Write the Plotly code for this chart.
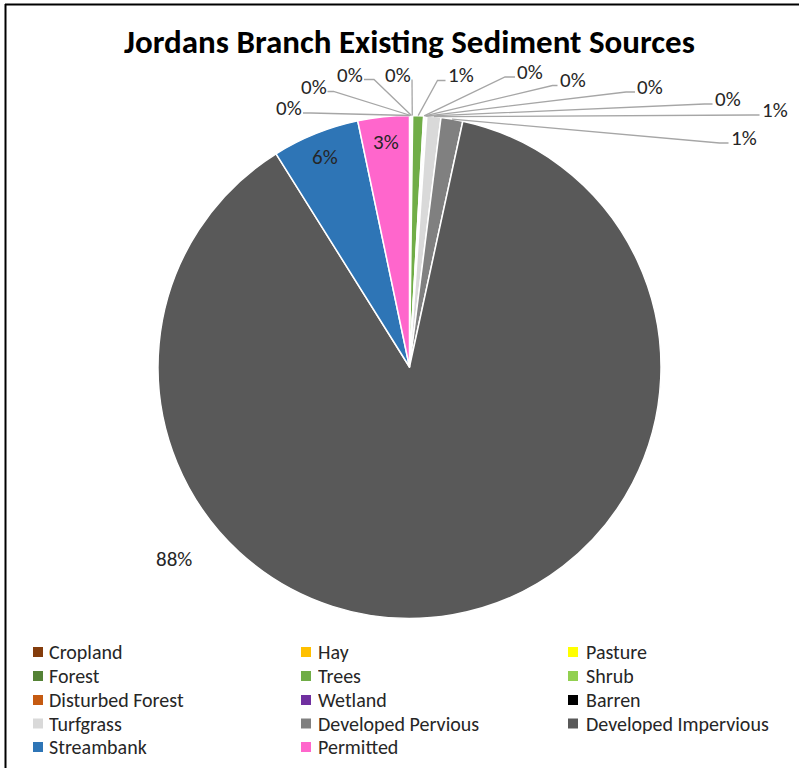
import math
import plotly.graph_objects as go

# ---- data -------------------------------------------------------------
categories = [
    "Cropland", "Hay", "Pasture", "Forest", "Trees", "Shrub",
    "Disturbed Forest", "Wetland", "Barren", "Turfgrass",
    "Developed Pervious", "Developed Impervious", "Streambank", "Permitted",
]
shares = [0.05, 0.05, 0.05, 0.05, 0.70, 0.05,
          0.05, 0.05, 0.05, 0.90,
          1.40, 87.70, 5.60, 3.30]
colors = [
    "#843C0C", "#FFC000", "#FFFF00", "#548235", "#70AD47", "#92D050",
    "#C55A11", "#7030A0", "#000000", "#D9D9D9",
    "#808080", "#595959", "#2E75B6", "#FF66CC",
]
title_text = "Jordans Branch Existing Sediment Sources"

# ---- layout constants (pixels) ---------------------------------------
W, H = 799, 768
CX, CY, R = 409.5, 367.0, 251.5
FONT = "Calibri, Carlito, Lato, sans-serif"
TEXT_COLOR = "#262626"
LEADER_COLOR = "#A6A6A6"
LABEL_SIZE = 21
LEGEND_SIZE = 20
TITLE_SIZE = 33

# callout labels for the thin slices: text centre x, y, side the leader
# leaves from ("L" = label sits left of its slice), elbow length
callouts = {
    "Cropland": (289.0, 108.5, "L", 8),
    "Hay": (313.5, 87.0, "L", 6),
    "Pasture": (350.0, 75.0, "L", 10),
    "Forest": (398.0, 75.0, "L", 0),
    "Trees": (460.5, 75.0, "R", 8),
    "Shrub": (530.0, 71.5, "R", 10),
    "Disturbed Forest": (572.5, 80.0, "R", 5),
    "Wetland": (650.0, 86.5, "R", 9),
    "Barren": (727.5, 98.5, "R", 8),
    "Turfgrass": (774.5, 109.5, "R", 8),
    "Developed Pervious": (743.5, 137.5, "R", 9),
}
inside_labels = {"Streambank": 0.90, "Permitted": 0.90}
free_labels = {"Developed Impervious": (174.0, 558.5)}

LEG_COLS = [(33, 48), (301, 317), (568, 585)]
LEG_ROWS = [652, 676, 700, 723.5, 747]
LEG_BOX = 10
LEG_TEXT_H = 22


def px(x):
    return x / W


def py(y):
    return 1 - y / H


total = sum(shares)
pcts = [v / total * 100 for v in shares]
mid_angle = {}
acc = 0.0
for name, p in zip(categories, pcts):
    mid_angle[name] = (acc + p / 2) * 3.6
    acc += p


def arc_point(theta_deg, r):
    t = math.radians(theta_deg)
    return CX + r * math.sin(t), CY - r * math.cos(t)


def pct_text(name):
    return f"{round(pcts[categories.index(name)]):.0f}%"


fig = go.Figure(
    go.Pie(
        labels=categories,
        values=shares,
        sort=False,
        direction="clockwise",
        rotation=0,
        marker=dict(colors=colors, line=dict(color="#FFFFFF", width=1.5)),
        textinfo="none",
        hoverinfo="label+percent",
        showlegend=False,
        domain=dict(x=[px(CX - R), px(CX + R)], y=[py(CY + R), py(CY - R)]),
    )
)

annotations = []
shapes = []

# callouts with leader lines
half_w = 13
for name, (tx, ty, side, elbow) in callouts.items():
    annotations.append(dict(
        x=px(tx), y=py(ty), xref="paper", yref="paper", text=pct_text(name),
        showarrow=False, xanchor="center", yanchor="middle",
        font=dict(family=FONT, size=LABEL_SIZE, color=TEXT_COLOR),
    ))
    if side == "L":
        sx, sy = tx + half_w + 1, ty + 4.5
        ex = sx + elbow
    else:
        sx, sy = tx - half_w - 2, ty + 5.5
        ex = sx - elbow
    ax, ay = arc_point(mid_angle[name], R)
    path = (f"M {px(sx)},{py(sy)} L {px(ex)},{py(sy)} "
            f"L {px(ax)},{py(ay)}")
    shapes.append(dict(type="path", path=path, xref="paper", yref="paper",
                       line=dict(color=LEADER_COLOR, width=1.3)))

# labels placed inside their slices
for name, rf in inside_labels.items():
    lx, ly = arc_point(mid_angle[name], R * rf)
    annotations.append(dict(
        x=px(lx), y=py(ly), xref="paper", yref="paper", text=pct_text(name),
        showarrow=False, xanchor="center", yanchor="middle",
        font=dict(family=FONT, size=LABEL_SIZE, color=TEXT_COLOR),
    ))

for name, (lx, ly) in free_labels.items():
    annotations.append(dict(
        x=px(lx), y=py(ly), xref="paper", yref="paper", text=pct_text(name),
        showarrow=False, xanchor="center", yanchor="middle",
        font=dict(family=FONT, size=LABEL_SIZE, color=TEXT_COLOR),
    ))

# legend: three columns, filled row by row
for i, (name, col) in enumerate(zip(categories, colors)):
    r, c = divmod(i, 3)
    bx, tx = LEG_COLS[c]
    yc = LEG_ROWS[r]
    shapes.append(dict(
        type="rect", xref="paper", yref="paper",
        x0=px(bx), x1=px(bx + LEG_BOX),
        y0=py(yc + LEG_BOX / 2), y1=py(yc - LEG_BOX / 2),
        fillcolor=col, line=dict(width=0),
    ))
    annotations.append(dict(
        x=px(tx), y=py(yc), xref="paper", yref="paper", text=name,
        showarrow=False, xanchor="left", yanchor="middle",
        height=LEG_TEXT_H, valign="middle", borderpad=0,
        font=dict(family=FONT, size=LEGEND_SIZE, color=TEXT_COLOR),
    ))

# frame (top and left edges)
shapes.append(dict(type="line", xref="paper", yref="paper",
                   x0=px(5), x1=px(W + 2), y0=py(4.5), y1=py(4.5),
                   line=dict(color="#000000", width=2)))
shapes.append(dict(type="line", xref="paper", yref="paper",
                   x0=px(5.5), x1=px(5.5), y0=py(4), y1=py(H + 2),
                   line=dict(color="#000000", width=2)))

fig.update_layout(
    width=W, height=H,
    margin=dict(l=0, r=0, t=0, b=0),
    paper_bgcolor="#FFFFFF",
    plot_bgcolor="#FFFFFF",
    title=dict(
        text=f"<b>{title_text}</b>",
        x=px(409.5), xanchor="center",
        y=py(41), yanchor="middle",
        font=dict(family=FONT, size=TITLE_SIZE, color="#000000"),
    ),
    annotations=annotations,
    shapes=shapes,
)

fig.write_html("out.html")
